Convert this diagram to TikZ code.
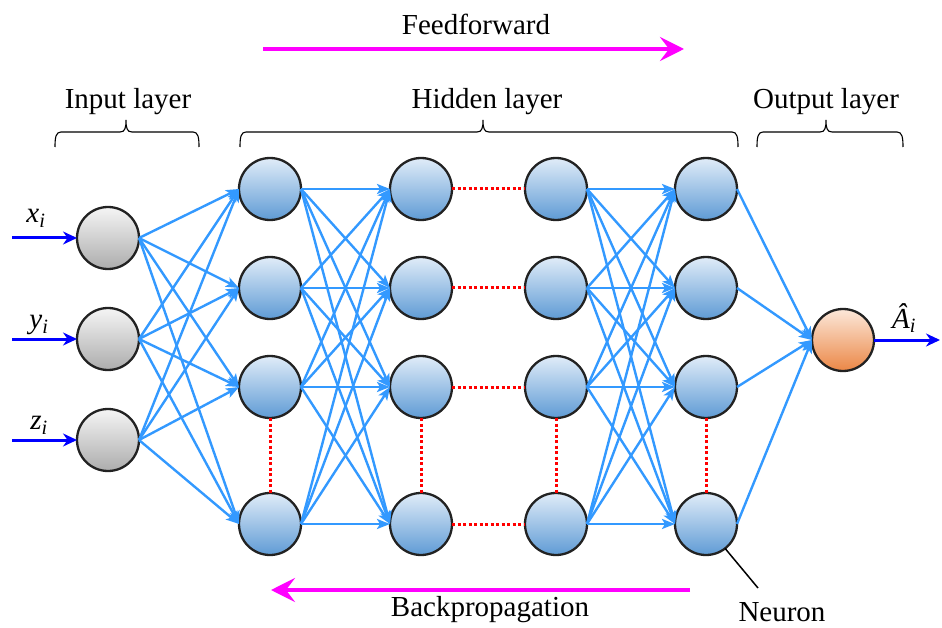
\documentclass[tikz,border=0pt]{standalone}
\usepackage{fontspec}
\setmainfont{Liberation Serif}
\usetikzlibrary{arrows.meta}
\definecolor{connc}{RGB}{51,153,255}
\definecolor{inc}{RGB}{0,0,255}
\definecolor{magc}{RGB}{255,0,255}
\definecolor{rimc}{RGB}{34,34,34}
\newcommand\layerbrace[3]{% x1, x2, mid
  \draw[bracec] (#1,147) .. controls (#1,137) and (#1+1,132) .. (#1+6,132) -- (#3-6,132)
    .. controls (#3-1,132) and (#3,128) .. (#3,120)
    .. controls (#3,128) and (#3+1,132) .. (#3+6,132) -- (#2-6,132)
    .. controls (#2-1,132) and (#2,137) .. (#2,147);}
\newcommand\itsub[2]{\textit{#1}\textsubscript{\textit{#2}}}
\begin{document}
\begin{tikzpicture}[x=1pt,y=-1pt,
  font=\fontsize{29}{34}\selectfont,
  neuron/.style={circle,draw=rimc,line width=2.3pt,minimum size=62pt,inner sep=0pt,outer sep=0pt},
  grayn/.style={neuron,top color=gray!8,bottom color=gray!65},
  bluen/.style={neuron,top color={rgb,255:red,224;green,236;blue,248},bottom color={rgb,255:red,95;green,155;blue,213}},
  orangen/.style={neuron,top color={rgb,255:red,252;green,232;blue,218},bottom color={rgb,255:red,235;green,135;blue,70}},
  conn/.style={connc,line width=2.4pt,-{Stealth[length=13pt,width=10pt,inset=3pt]}},
  inarrow/.style={inc,line width=3pt,-{Stealth[length=14pt,width=13pt]}},
  bigarrow/.style={magc,line width=4.5pt,-{Stealth[length=24pt,width=24pt,inset=9pt]}},
  reddot/.style={red,line width=3pt,dash pattern=on 3pt off 2.5pt},
  bracec/.style={black,line width=1.1pt},
  lbl/.style={inner sep=0pt}
]
\useasboundingbox (0,0) rectangle (942,628);

% neurons
\foreach \r/\y in {1/238,2/339,3/440}{\node[grayn] (i\r) at (108,\y) {};}
\foreach \c/\x in {1/270,2/421,3/556,4/706}{
  \foreach \r/\y in {1/189,2/288,3/387,4/524}{\node[bluen] (h\c\r) at (\x,\y) {};}}
\node[orangen] (o) at (843,340) {};

% connections
\foreach \a in {1,2,3}{\foreach \b in {1,2,3,4}{\draw[conn] (i\a.east) -- (h1\b.west);}}
\foreach \a in {1,2,3,4}{\foreach \b in {1,2,3,4}{\draw[conn] (h1\a.east) -- (h2\b.west);}}
\foreach \a in {1,2,3,4}{\foreach \b in {1,2,3,4}{\draw[conn] (h3\a.east) -- (h4\b.west);}}
\foreach \a in {1,2,3,4}{\draw[conn] (h4\a.east) -- (o.west);}

% red dotted links
\foreach \r in {1,2,3,4}{\draw[reddot] (h2\r) -- (h3\r);}
\foreach \c in {1,2,3,4}{\draw[reddot] (h\c3) -- (h\c4);}

% inputs and output
\coordinate (ix1) at (12,238);
\coordinate (ix2) at (12,339);
\coordinate (ix3) at (12,440);
\foreach \r in {1,2,3}{\draw[inarrow] (ix\r) -- (i\r);}
\node[lbl] (lx) at (36,218) {\itsub{x}{i}};
\node[lbl] (ly) at (39,325) {\itsub{y}{i}};
\node[lbl] (lz) at (39,425) {\itsub{z}{i}};
\coordinate (oend) at (940,340);
\draw[inarrow] (o) -- (oend);
\node[lbl] (la) at (904,318) {\itsub{Â}{i}};

% layer labels and braces
\node[lbl] (tin) at (128,102) {Input layer};
\node[lbl] (thid) at (487,102) {Hidden layer};
\node[lbl] (tout) at (826,102) {Output layer};
\layerbrace{55}{199}{126}
\layerbrace{240}{738}{483}
\layerbrace{757}{903}{826}

% feedforward / backpropagation
\node[lbl] (tff) at (476,24) {Feedforward};
\coordinate (ffa) at (263,49);
\coordinate (ffb) at (684,49);
\draw[bigarrow] (ffa) -- (ffb);
\coordinate (bpa) at (690,590);
\coordinate (bpb) at (271,590);
\draw[bigarrow] (bpa) -- (bpb);
\node[lbl] (tbp) at (490,610) {Backpropagation};

% neuron label
\node[lbl] (tneu) at (782,612) {Neuron};
\coordinate (neuend) at (758,588);
\draw[black,line width=1.5pt] (h44.-52) -- (neuend);
\end{tikzpicture}
\end{document}
